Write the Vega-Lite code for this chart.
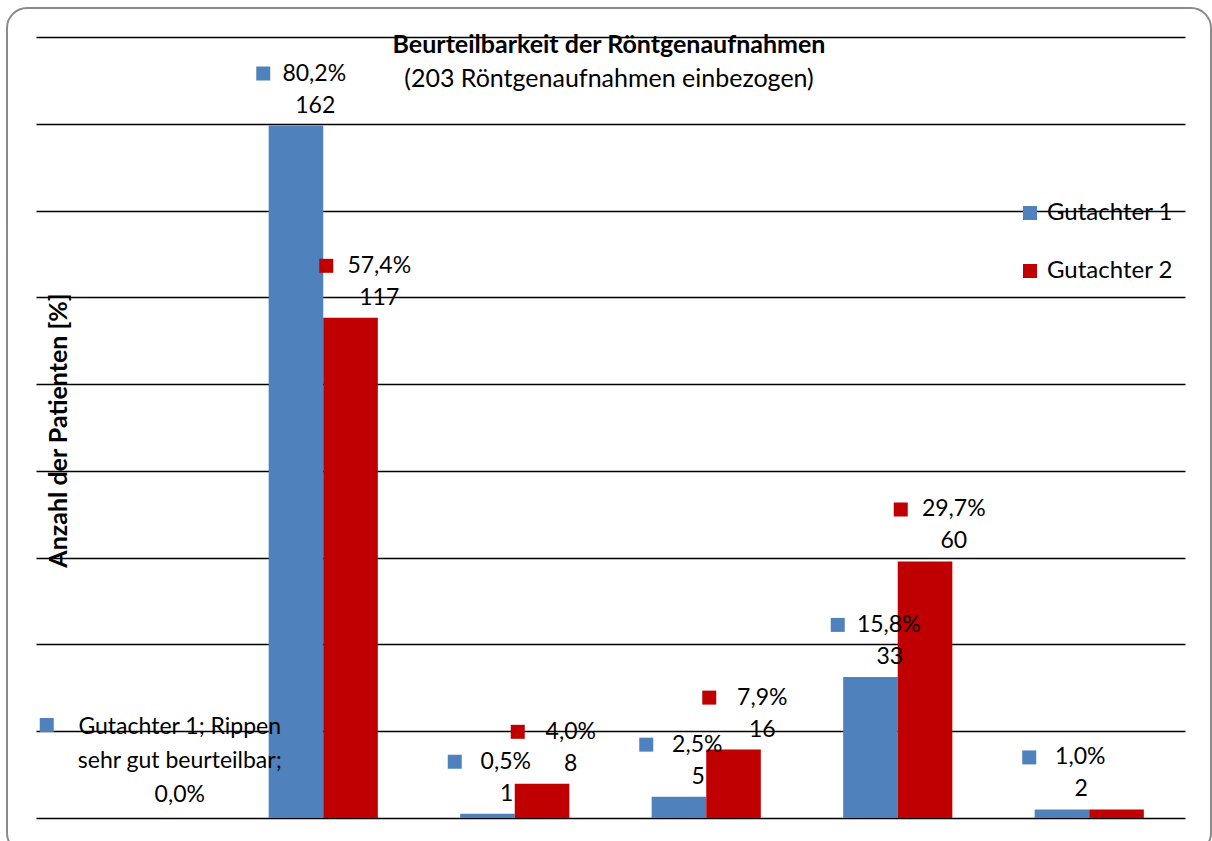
{
  "$schema": "https://vega.github.io/schema/vega-lite/v6.json",
  "width": 1204,
  "height": 845,
  "autosize": {"type": "none"},
  "padding": {"left": 7, "top": 8, "right": 1, "bottom": 0},
  "background": "white",
  "config": {
    "font": "Lato",
    "view": {"stroke": "#8a8a8a", "strokeWidth": 2, "cornerRadius": 20},
    "text": {"font": "Lato", "fontSize": 23, "color": "#000", "baseline": "middle", "align": "center"}
  },
  "title": {
    "text": "Beurteilbarkeit der Röntgenaufnahmen",
    "subtitle": "(203 Röntgenaufnahmen einbezogen)",
    "font": "Lato",
    "subtitleFont": "Lato",
    "fontSize": 25,
    "fontWeight": "bold",
    "subtitleFontSize": 25,
    "color": "#000",
    "subtitleColor": "#000",
    "anchor": "middle",
    "offset": -84,
    "subtitlePadding": 9
  },
  "data": {
    "values": [
      {"kategorie": "Rippen sehr gut beurteilbar", "gutachter": "Gutachter 1", "anteil": 0, "anzahl": 0, "prozentText": "0,0%"},
      {"kategorie": "Rippen sehr gut beurteilbar", "gutachter": "Gutachter 2", "anteil": 0, "anzahl": 0, "prozentText": null},
      {"kategorie": "Rippen gut beurteilbar", "gutachter": "Gutachter 1", "anteil": 79.8, "anzahl": 162, "prozentText": "80,2%"},
      {"kategorie": "Rippen gut beurteilbar", "gutachter": "Gutachter 2", "anteil": 57.64, "anzahl": 117, "prozentText": "57,4%"},
      {"kategorie": "Rippen mäßig beurteilbar", "gutachter": "Gutachter 1", "anteil": 0.49, "anzahl": 1, "prozentText": "0,5%"},
      {"kategorie": "Rippen mäßig beurteilbar", "gutachter": "Gutachter 2", "anteil": 3.94, "anzahl": 8, "prozentText": "4,0%"},
      {"kategorie": "Rippen eingeschränkt beurteilbar", "gutachter": "Gutachter 1", "anteil": 2.46, "anzahl": 5, "prozentText": "2,5%"},
      {"kategorie": "Rippen eingeschränkt beurteilbar", "gutachter": "Gutachter 2", "anteil": 7.88, "anzahl": 16, "prozentText": "7,9%"},
      {"kategorie": "Rippen schlecht beurteilbar", "gutachter": "Gutachter 1", "anteil": 16.26, "anzahl": 33, "prozentText": "15,8%"},
      {"kategorie": "Rippen schlecht beurteilbar", "gutachter": "Gutachter 2", "anteil": 29.56, "anzahl": 60, "prozentText": "29,7%"},
      {"kategorie": "Rippen nicht beurteilbar", "gutachter": "Gutachter 1", "anteil": 0.99, "anzahl": 2, "prozentText": "1,0%"},
      {"kategorie": "Rippen nicht beurteilbar", "gutachter": "Gutachter 2", "anteil": 0.99, "anzahl": 2, "prozentText": null}
    ]
  },
  "encoding": {
    "x": {
      "field": "kategorie",
      "type": "nominal",
      "sort": null,
      "axis": null,
      "scale": {"range": [29, 1178], "paddingInner": 0.43, "paddingOuter": 0.215}
    },
    "y": {
      "field": "anteil",
      "type": "quantitative",
      "scale": {"domain": [0, 90], "range": [810, 29], "nice": false},
      "axis": {
        "title": "Anzahl der Patienten [%]",
        "values": [0, 10, 20, 30, 40, 50, 60, 70, 80, 90],
        "labels": false,
        "ticks": false,
        "domain": false,
        "grid": true,
        "gridColor": "#000",
        "gridWidth": 1.6,
        "titleFont": "Lato",
        "titleFontSize": 25,
        "titleFontWeight": "bold",
        "titleColor": "#000",
        "titleX": 51,
        "titleY": 422,
        "titleAngle": 270,
        "titleAlign": "center",
        "titleBaseline": "middle"
      }
    }
  },
  "layer": [
    {
      "mark": {"type": "bar"},
      "encoding": {
        "xOffset": {"field": "gutachter", "type": "nominal", "sort": null, "scale": {"paddingInner": 0, "paddingOuter": 0}},
        "color": {
          "field": "gutachter",
          "type": "nominal",
          "scale": {"domain": ["Gutachter 1", "Gutachter 2"], "range": ["#4F81BD", "#C00000"]},
          "legend": {
            "orient": "none",
            "legendX": 1011,
            "legendY": 193,
            "title": null,
            "symbolType": "square",
            "symbolSize": 196,
            "symbolStrokeWidth": 0,
            "labelFont": "Lato",
            "labelFontSize": 24,
            "labelColor": "#000",
            "labelOffset": 5,
            "rowPadding": 34,
            "padding": 0
          }
        }
      }
    },
    {
      "transform": [{"filter": "datum.gutachter === 'Gutachter 1' && datum.kategorie !== 'Rippen sehr gut beurteilbar'"}],
      "mark": {"type": "point", "shape": "square", "filled": true, "size": 196, "opacity": 1, "color": "#4F81BD", "xOffset": -60, "yOffset": -52}
    },
    {
      "transform": [{"filter": "datum.gutachter === 'Gutachter 1' && datum.kategorie !== 'Rippen sehr gut beurteilbar'"}],
      "mark": {"type": "text", "dx": -9, "dy": -52},
      "encoding": {"text": {"field": "prozentText"}}
    },
    {
      "transform": [{"filter": "datum.gutachter === 'Gutachter 1' && datum.kategorie !== 'Rippen sehr gut beurteilbar'"}],
      "mark": {"type": "text", "dx": -8, "dy": -20},
      "encoding": {"text": {"field": "anzahl"}}
    },
    {
      "transform": [{"filter": "datum.gutachter === 'Gutachter 2' && isValid(datum.prozentText)"}],
      "mark": {"type": "point", "shape": "square", "filled": true, "size": 196, "opacity": 1, "color": "#C00000", "xOffset": 3, "yOffset": -52}
    },
    {
      "transform": [{"filter": "datum.gutachter === 'Gutachter 2' && isValid(datum.prozentText)"}],
      "mark": {"type": "text", "dx": 56, "dy": -52},
      "encoding": {"text": {"field": "prozentText"}}
    },
    {
      "transform": [{"filter": "datum.gutachter === 'Gutachter 2' && isValid(datum.prozentText)"}],
      "mark": {"type": "text", "dx": 56, "dy": -20},
      "encoding": {"text": {"field": "anzahl"}}
    },
    {
      "transform": [{"filter": "datum.gutachter === 'Gutachter 1' && datum.kategorie === 'Rippen sehr gut beurteilbar'"}],
      "mark": {"type": "text", "dx": 48, "dy": -91, "lineHeight": 34},
      "encoding": {"text": {"value": ["Gutachter 1; Rippen", "sehr gut beurteilbar;", "0,0%"]}}
    },
    {
      "transform": [{"filter": "datum.gutachter === 'Gutachter 1' && datum.kategorie === 'Rippen sehr gut beurteilbar'"}],
      "mark": {"type": "point", "shape": "square", "filled": true, "size": 196, "opacity": 1, "color": "#4F81BD", "xOffset": -85, "yOffset": -93}
    }
  ]
}
